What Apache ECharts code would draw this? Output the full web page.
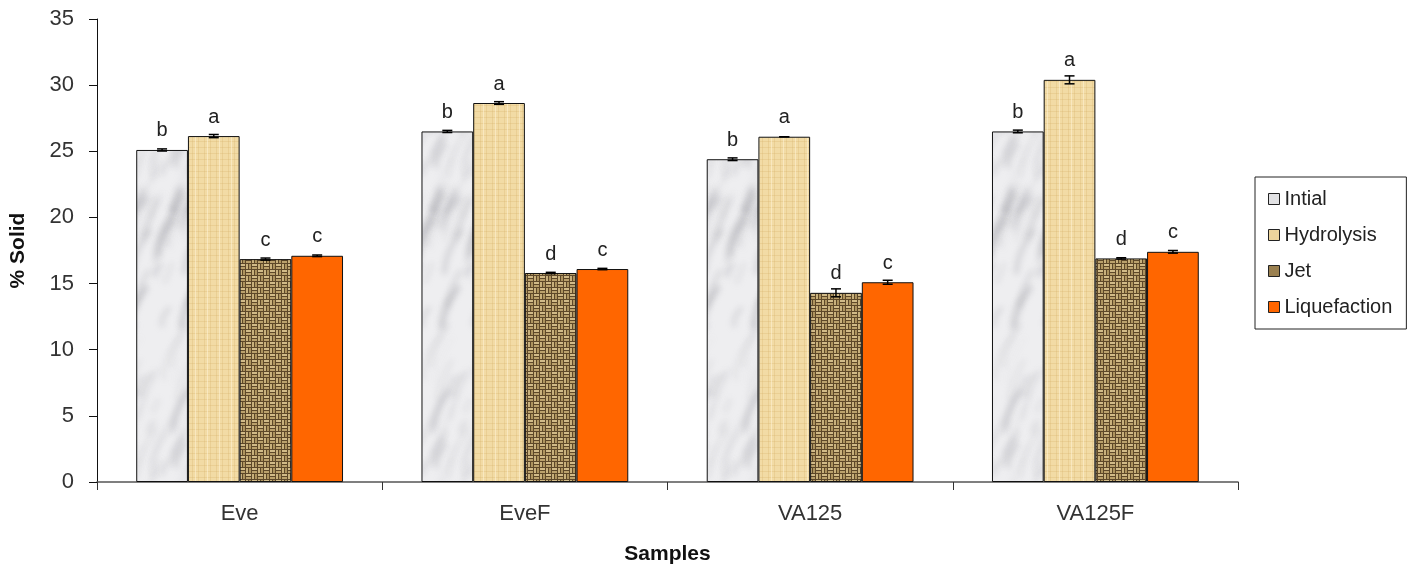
<!DOCTYPE html>
<html>
<head>
<meta charset="utf-8">
<script src="https://cdn.jsdelivr.net/npm/echarts@6/dist/echarts.min.js"></script>
<style>
html,body{margin:0;padding:0;background:#fff;}
#main{width:1425px;height:571px;}
</style>
</head>
<body>
<div id="main"></div>
<script>
// ---- data ----
const categories = ['Eve', 'EveF', 'VA125', 'VA125F'];
const seriesNames = ['Intial', 'Hydrolysis', 'Jet', 'Liquefaction'];
const intial       = [25.1, 26.5, 24.4, 26.5];
const hydrolysis   = [26.15, 28.65, 26.1, 30.4];
const jet          = [16.85, 15.8, 14.3, 16.9];
const liquefaction = [17.1, 16.1, 15.1, 17.4];
const errIntial       = [0.08, 0.08, 0.1, 0.1];
const errHydrolysis   = [0.12, 0.1, 0.0, 0.3];
const errJet          = [0.08, 0.05, 0.3, 0.05];
const errLiquefaction = [0.06, 0.05, 0.15, 0.1];
const lettersIntial       = ['b', 'b', 'b', 'b'];
const lettersHydrolysis   = ['a', 'a', 'a', 'a'];
const lettersJet          = ['c', 'd', 'd', 'd'];
const lettersLiquefaction = ['c', 'c', 'c', 'c'];
const yTicks = [0, 5, 10, 15, 20, 25, 30, 35];

const values = [intial, hydrolysis, jet, liquefaction];
const errs = [errIntial, errHydrolysis, errJet, errLiquefaction];
const letters = [lettersIntial, lettersHydrolysis, lettersJet, lettersLiquefaction];

// ---- textures (styling only) ----
function rng(seed){ let s = seed; return function(){ s = (s * 1103515245 + 12345) & 0x7fffffff; return s / 0x7fffffff; }; }

function marble(){
  const W = 52, H = 300;
  const c = document.createElement('canvas'); c.width = W; c.height = H;
  const g = c.getContext('2d'); const r = rng(23);
  g.fillStyle = '#eeeef0'; g.fillRect(0,0,W,H);
  g.filter = 'blur(3px)';
  for (let k = 0; k < 45; k++) {
    const x = r()*W, y = r()*H, len = 12 + r()*45;
    const col = 'rgba(150,150,158,' + (0.12 + r()*0.3) + ')';
    const lw = 1 + r()*4;
    const bend = r()*12 - 4;
    for (let ox = -W; ox <= W; ox += W) for (let oy = -H; oy <= H; oy += H) {
      g.strokeStyle = col; g.lineWidth = lw;
      g.beginPath(); g.moveTo(x+ox, y+oy);
      g.quadraticCurveTo(x+ox + bend, y+oy - len*0.5, x+ox + len*0.4, y+oy - len);
      g.stroke();
    }
  }
  g.filter = 'none';
  return c;
}
function paper(){
  const c = document.createElement('canvas'); c.width = 12; c.height = 12;
  const g = c.getContext('2d');
  g.fillStyle = '#f2dba5'; g.fillRect(0,0,12,12);
  g.fillStyle = 'rgba(215,180,110,0.3)';
  g.fillRect(0,0,1,12); g.fillRect(6,0,1,12);
  g.fillRect(0,3,12,1); g.fillRect(0,9,12,1);
  g.fillStyle = 'rgba(255,245,220,0.5)';
  g.fillRect(3,0,1,12);
  return c;
}
function burlap(){
  const S = 6, c = document.createElement('canvas'); c.width = 2*S; c.height = 2*S;
  const g = c.getContext('2d');
  g.fillStyle = '#5e4829'; g.fillRect(0,0,2*S,2*S);
  for (let i = 0; i < 2; i++) for (let j = 0; j < 2; j++) {
    const x0 = i*S, y0 = j*S;
    if ((i + j) % 2 === 0) {
      g.fillStyle = '#d2bb88'; g.fillRect(x0, y0, S-1, 2);
      g.fillStyle = '#bba16c'; g.fillRect(x0, y0+3, S-1, 2);
    } else {
      g.fillStyle = '#c9b17c'; g.fillRect(x0, y0, 2, S-1);
      g.fillStyle = '#ae945f'; g.fillRect(x0+3, y0, 2, S-1);
    }
  }
  return c;
}
const fills = [
  { image: marble(), repeat: 'repeat' },
  { image: paper(), repeat: 'repeat' },
  { image: burlap(), repeat: 'repeat' },
  '#ff6600'
];
const legendColors = ['#e2e2e4', '#ecd49c', '#9a8050', '#ff6600'];

const GAP = 0.275;
const barSeries = seriesNames.map((name, s) => ({
  name: name,
  type: 'bar',
  barGap: '0%',
  barCategoryGap: (GAP*100) + '%',
  data: values[s],
  itemStyle: { color: fills[s], borderColor: '#111', borderWidth: 1 },
  label: {
    show: true, position: 'top', distance: 9,
    fontFamily: 'Liberation Sans, Arial', fontSize: 20, color: '#222',
    formatter: p => letters[s][p.dataIndex]
  },
  z: 2
}));

const errData = [];
for (let s = 0; s < 4; s++) for (let i = 0; i < categories.length; i++) errData.push([i, values[s][i], errs[s][i], s]);

const errSeries = {
  type: 'custom',
  data: errData,
  z: 5,
  silent: true,
  renderItem: function(params, api){
    const i = api.value(0), v = api.value(1), e = api.value(2), s = api.value(3);
    const bandW = api.size([1, 0])[0];
    const bw = bandW * (1 - GAP) / 4;
    const cx = api.coord([i, v])[0] + (s - 1.5) * bw;
    const yT = api.coord([i, v + e])[1];
    const yB = api.coord([i, v - e])[1];
    const st = { stroke: '#000', lineWidth: 1.5 };
    return { type: 'group', children: [
      { type: 'line', shape: { x1: cx, y1: yT, x2: cx, y2: yB }, style: st },
      { type: 'line', shape: { x1: cx - 5, y1: yT, x2: cx + 5, y2: yT }, style: st },
      { type: 'line', shape: { x1: cx - 5, y1: yB, x2: cx + 5, y2: yB }, style: st }
    ]};
  }
};

const chart = echarts.init(document.getElementById('main'), null, { renderer: 'canvas' });
chart.setOption({
  animation: false,
  backgroundColor: '#fff',
  textStyle: { fontFamily: 'Liberation Sans, Arial' },
  grid: { left: 96, right: 187, top: 19, bottom: 89, containLabel: false },
  legend: {
    orient: 'vertical', left: 1255, top: 177,
    padding: [12, 14, 12, 13],
    itemGap: 16, itemWidth: 11, itemHeight: 11,
    borderColor: '#222', borderWidth: 1,
    textStyle: { fontSize: 20, color: '#222', fontFamily: 'Liberation Sans, Arial' },
    data: seriesNames.map((n, s) => ({ name: n, icon: 'rect', itemStyle: { color: legendColors[s], borderColor: '#222', borderWidth: 1 } }))
  },
  xAxis: {
    type: 'category', data: categories,
    name: 'Samples', nameLocation: 'middle', nameGap: 62,
    nameTextStyle: { fontSize: 21, fontWeight: 'bold', color: '#111' },
    axisLine: { lineStyle: { color: '#555', width: 1.5 } },
    axisTick: { show: true, length: 8, lineStyle: { color: '#333' } },
    axisLabel: { fontSize: 22, color: '#333', margin: 21 }
  },
  yAxis: {
    type: 'value', min: 0, max: 35, interval: 5,
    name: '% Solid', nameLocation: 'middle', nameGap: 68,
    nameTextStyle: { fontSize: 21, fontWeight: 'bold', color: '#111' },
    axisLine: { show: true, lineStyle: { color: '#111', width: 1 } },
    axisTick: { show: true, length: 8, inside: false, lineStyle: { color: '#111' } },
    axisLabel: { fontSize: 22, color: '#333', margin: 23, formatter: v => yTicks.includes(v) ? String(v) : '' },
    splitLine: { show: false }
  },
  series: barSeries.concat([errSeries])
});
</script>
</body>
</html>
